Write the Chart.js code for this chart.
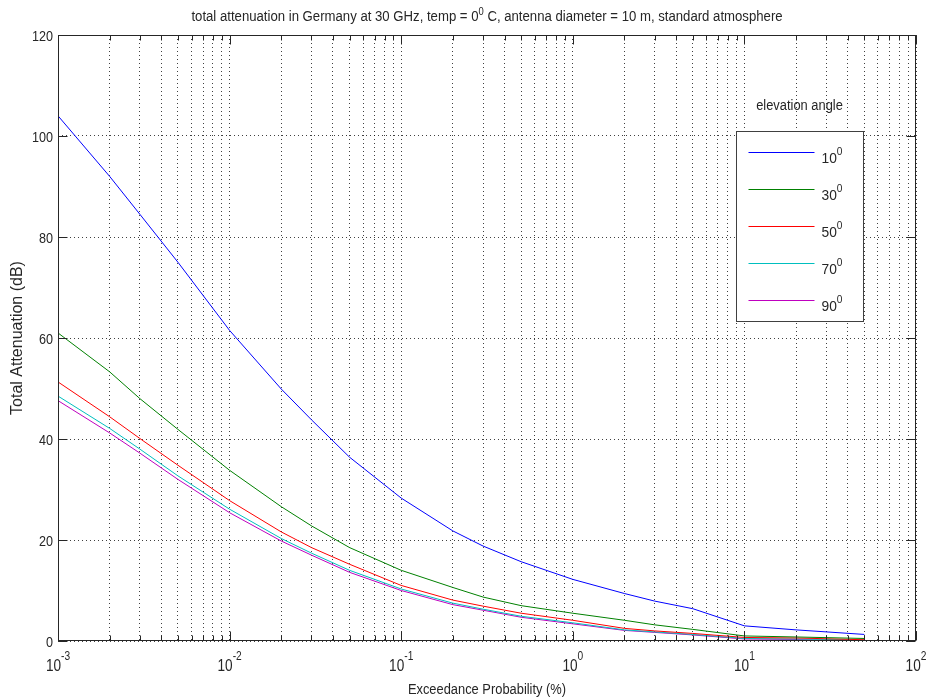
<!DOCTYPE html>
<html>
<head>
<meta charset="utf-8">
<script src="https://cdn.jsdelivr.net/npm/chart.js@4.4.1/dist/chart.umd.min.js"></script>
<style>
  html, body { margin: 0; padding: 0; background: #ffffff; }
  #wrap { width: 929px; height: 700px; }
</style>
</head>
<body>
<div id="wrap"><canvas id="c" width="929" height="700"></canvas></div>
<script>
// ---- data ----
const probabilities = [0.001, 0.002, 0.003, 0.005, 0.01, 0.02, 0.03, 0.05, 0.1, 0.2, 0.3, 0.5, 1, 2, 3, 5, 10, 20, 50];
const att10 = [104, 92, 84.5, 75, 61.5, 49.9, 43.8, 36.4, 28.3, 21.8, 18.8, 15.7, 12.2, 9.4, 7.9, 6.4, 3.0, 2.2, 1.3];
const att30 = [61, 53.3, 48, 41.9, 33.8, 26.6, 22.8, 18.5, 14.0, 10.6, 8.7, 7.0, 5.5, 4.1, 3.2, 2.3, 1.0, 0.8, 0.5];
const att50 = [51.3, 44.4, 40.1, 34.8, 27.8, 21.6, 18.5, 15.2, 11.0, 8.1, 6.9, 5.5, 4.1, 2.5, 2.0, 1.5, 0.7, 0.6, 0.25];
const att70 = [48.5, 42.1, 38, 32.7, 26.1, 20.3, 17.4, 14.0, 10.3, 7.5, 6.3, 4.9, 3.6, 2.2, 1.8, 1.3, 0.5, 0.4, 0.2];
const att90 = [47.6, 41.2, 37.2, 32.0, 25.4, 19.8, 17.0, 13.6, 10.0, 7.2, 6.1, 4.7, 3.4, 2.1, 1.7, 1.2, 0.4, 0.3, 0.1];
const angleLabels = ['10', '30', '50', '70', '90'];
const yTicks = [0, 20, 40, 60, 80, 100, 120];
const xDecadeExponents = ['-3', '-2', '-1', '0', '1', '2'];
const titleParts = ['total attenuation in Germany at 30 GHz, temp = 0', '0', ' C, antenna diameter = 10 m, standard atmosphere'];
const xTitle = 'Exceedance Probability (%)';
const yTitle = 'Total Attenuation (dB)';
const legendTitle = 'elevation angle';

const seriesColors = ['#0000ff', '#008000', '#ff0000', '#00bfbf', '#bf00bf'];
const allSeries = [att10, att30, att50, att70, att90];

const FAM = "'Liberation Sans', Arial, sans-serif";
const INK = '#262626';

const datasets = allSeries.map((arr, i) => ({
  label: angleLabels[i] + '°',
  data: probabilities.map((p, k) => ({ x: p, y: arr[k] })),
  borderColor: seriesColors[i],
  backgroundColor: seriesColors[i],
  borderWidth: 1,
  pointRadius: 0,
  tension: 0,
  fill: false
}));

// all log grid positions (1..9 x 10^n)
function logTicks() {
  const t = [];
  for (let e = -3; e <= 1; e++) {
    for (let k = 1; k <= 9; k++) t.push({ value: +(k * Math.pow(10, e)).toPrecision(3) });
  }
  t.push({ value: 100 });
  return t;
}

// condensed text helper (MATLAB-like narrow lettering)
function tw(ctx, text, size, sx) {
  ctx.font = size + 'px ' + FAM;
  return ctx.measureText(text).width * sx;
}
function txt(ctx, text, x, y, size, sx) {
  ctx.save();
  ctx.font = size + 'px ' + FAM;
  ctx.textAlign = 'left';
  ctx.textBaseline = 'alphabetic';
  ctx.translate(x, y);
  ctx.scale(sx, 1);
  ctx.fillText(text, 0, 0);
  ctx.restore();
}

const decorPlugin = {
  id: 'decor',
  afterDraw(chart) {
    const { ctx, chartArea: a } = chart;
    const xs = chart.scales.x, ys = chart.scales.y;
    ctx.save();
    // frame
    ctx.strokeStyle = INK;
    ctx.lineWidth = 1;
    const L = Math.round(a.left) + 0.5, R = Math.round(a.right) - 0.5;
    const T = Math.round(a.top) + 0.5, B = Math.round(a.bottom) - 0.5;
    ctx.strokeRect(L, T, R - L, B - T);
    // inward ticks x
    ctx.beginPath();
    xs.ticks.forEach(t => {
      const px = Math.round(xs.getPixelForValue(t.value)) + 0.5;
      const mant = t.value / Math.pow(10, Math.floor(Math.log10(t.value) + 1e-9));
      const len = Math.abs(mant - 1) < 1e-6 ? 9 : 5;
      ctx.moveTo(px, B); ctx.lineTo(px, B - len);
      ctx.moveTo(px, T); ctx.lineTo(px, T + len);
    });
    // inward ticks y
    yTicks.forEach(v => {
      const py = Math.round(ys.getPixelForValue(v)) + 0.5;
      ctx.moveTo(L, py); ctx.lineTo(L + 9, py);
      ctx.moveTo(R, py); ctx.lineTo(R - 9, py);
    });
    ctx.stroke();

    ctx.fillStyle = INK;
    // y tick labels
    yTicks.forEach(v => {
      const py = ys.getPixelForValue(v);
      const s = String(v);
      const w = tw(ctx, s, 15, 0.84);
      txt(ctx, s, a.left - 5 - w, py + 5.5, 15, 0.84);
    });
    // x tick labels 10^n
    xDecadeExponents.forEach(ex => {
      const px = xs.getPixelForValue(Math.pow(10, +ex));
      const wb = tw(ctx, '10', 16, 0.85);
      const we = tw(ctx, ex, 12, 0.85);
      const x0 = px - (wb + we) / 2;
      txt(ctx, '10', x0, a.bottom + 30, 16, 0.85);
      txt(ctx, ex, x0 + wb, a.bottom + 19, 12, 0.85);
    });
    // x axis title
    {
      const w = tw(ctx, xTitle, 14, 0.92);
      txt(ctx, xTitle, (a.left + a.right) / 2 - w / 2, a.bottom + 53, 14, 0.92);
    }
    // chart title with superscript
    {
      const sx = 0.94;
      const w0 = tw(ctx, titleParts[0], 14, sx);
      const w1 = tw(ctx, titleParts[1], 10, sx);
      const w2 = tw(ctx, titleParts[2], 14, sx);
      const tx = (a.left + a.right) / 2 - (w0 + w1 + w2) / 2;
      txt(ctx, titleParts[0], tx, a.top - 14, 14, sx);
      txt(ctx, titleParts[1], tx + w0, a.top - 20, 10, sx);
      txt(ctx, titleParts[2], tx + w0 + w1, a.top - 14, 14, sx);
    }

    // legend
    const bx = a.right - 179.5, by = a.top + 96.5, bw = 127, bh = 190;
    {
      const w = tw(ctx, legendTitle, 14, 0.92);
      txt(ctx, legendTitle, bx + 63 - w / 2, a.top + 75, 14, 0.92);
    }
    ctx.fillStyle = '#ffffff';
    ctx.fillRect(bx, by, bw, bh);
    ctx.strokeStyle = '#404040';
    ctx.strokeRect(bx, by, bw, bh);
    angleLabels.forEach((lab, i) => {
      const ly = Math.round(by + 20.5 + 37 * i) + 0.5;
      ctx.strokeStyle = seriesColors[i];
      ctx.beginPath();
      ctx.moveTo(bx + 12, ly); ctx.lineTo(bx + 78, ly);
      ctx.stroke();
      ctx.fillStyle = INK;
      const wl = tw(ctx, lab, 15, 0.92);
      txt(ctx, lab, bx + 85, ly + 10, 15, 0.92);
      txt(ctx, '0', bx + 85 + wl, ly + 2, 11, 0.92);
    });
    ctx.restore();
  }
};

new Chart(document.getElementById('c'), {
  type: 'line',
  data: { datasets },
  plugins: [decorPlugin],
  options: {
    responsive: false,
    animation: false,
    layout: { padding: { left: 0, top: 35, right: 13, bottom: 0 } },
    plugins: { legend: { display: false }, title: { display: false }, tooltip: { enabled: false } },
    scales: {
      x: {
        type: 'logarithmic',
        min: 0.001,
        max: 100,
        afterBuildTicks(scale) { scale.ticks = logTicks(); },
        afterFit(scale) { scale.height = 59; },
        ticks: { display: false, autoSkip: false },
        grid: { color: 'rgba(0,0,0,0.75)', lineWidth: 1, drawTicks: false },
        border: { display: false, dash: [1, 3] }
      },
      y: {
        type: 'linear',
        min: 0,
        max: 120,
        afterBuildTicks(scale) { scale.ticks = yTicks.map(v => ({ value: v })); },
        afterFit(scale) { scale.width = 58; },
        ticks: { display: false },
        grid: { color: 'rgba(0,0,0,0.75)', lineWidth: 1, drawTicks: false },
        border: { display: false, dash: [1, 3] },
        title: {
          display: true,
          text: yTitle,
          color: INK,
          font: { family: FAM, size: 16 },
          padding: { top: 8, bottom: 0 }
        }
      }
    }
  }
});
</script>
</body>
</html>
